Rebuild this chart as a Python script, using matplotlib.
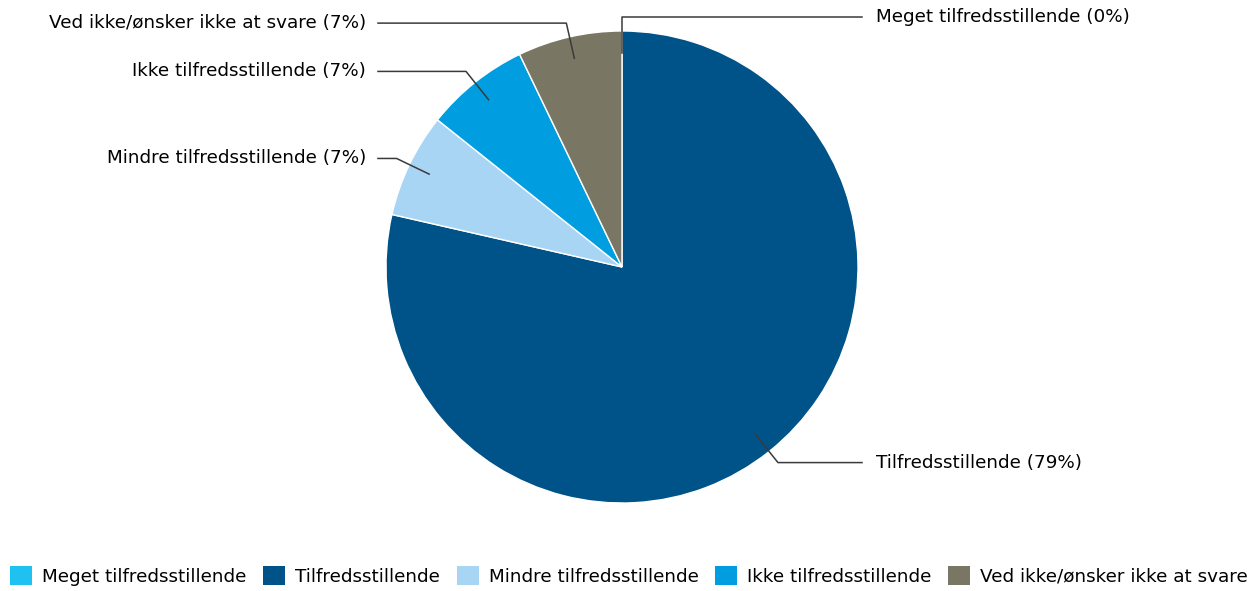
import numpy as np
import matplotlib.pyplot as plt
from matplotlib.patches import Patch

categories = ["Meget tilfredsstillende", "Tilfredsstillende", "Mindre tilfredsstillende",
              "Ikke tilfredsstillende", "Ved ikke/ønsker ikke at svare"]
counts = [0, 11, 1, 1, 1]
colors = ["#1FC1F0", "#005388", "#A9D5F5", "#009EE0", "#797663"]

W, H = 1258, 591
cx, cy, R = 622, 267, 236

fig = plt.figure(figsize=(W / 100, H / 100), dpi=100)
ax = fig.add_axes([0, 0, 1, 1])

wedges, _ = ax.pie(counts, colors=colors, startangle=90, counterclock=False,
                   radius=1, center=(0, 0), frame=True,
                   wedgeprops=dict(edgecolor="white", linewidth=1))
ax.set_xlim(-cx / R, (W - cx) / R)
ax.set_ylim(-(H - cy) / R, cy / R)
ax.axis("off")

total = sum(counts)
for w, name, c in zip(wedges, categories, counts):
    mid = np.deg2rad((w.theta1 + w.theta2) / 2)
    x0, y0 = 0.907 * np.cos(mid), 0.907 * np.sin(mid)
    x1, y1 = 1.06 * np.cos(mid), 1.06 * np.sin(mid)
    if np.cos(mid) < -1e-6:
        x2, xt, ha = -1.034, -1.085, "right"
    else:
        x2, xt, ha = 1.017, 1.076, "left"
    ax.plot([x0, x1, x2], [y0, y1, y1], color="#3a3a3a", lw=1.1)
    pct = round(c / total * 100)
    ax.text(xt, y1, f"{name} ({pct}%)", ha=ha, va="center", fontsize=13.2,
            color="black")

handles = [Patch(facecolor=col, edgecolor="none") for col in colors]
fig.legend(handles, categories, loc="center", bbox_to_anchor=(0.5, 1 - 576 / H),
           ncol=5, frameon=False, fontsize=13.2, handlelength=1.2, handleheight=1.2,
           columnspacing=0.9, handletextpad=0.55)

fig.savefig("out.png", dpi=100)
